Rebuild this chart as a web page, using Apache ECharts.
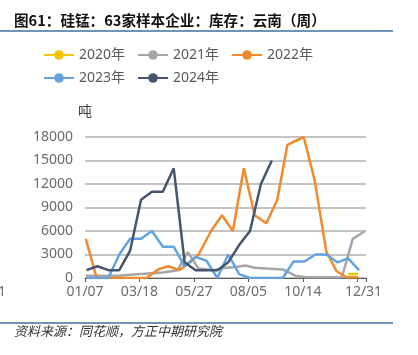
<!DOCTYPE html>
<html><head><meta charset="utf-8">
<script src="https://cdn.jsdelivr.net/npm/echarts@6/dist/echarts.min.js"></script>
<style>html,body{margin:0;padding:0;background:#fff}#c{width:418px;height:355px}</style>
</head><body><div id="c"></div>
<script>
// ---- data (x = days after 01/07) ----
const seriesNames = ['2020年', '2021年', '2022年', '2023年', '2024年'];
const tickDays = [0, 70, 140, 210, 280, 350, 361];
const tickLabels = ['01/07', '03/18', '05/27', '08/05', '10/14', '', '12/31'];
const yTicks = [0, 3000, 6000, 9000, 12000, 15000, 18000];

const days2020 = [338, 351];
const vals2020 = [500, 500];

const days2021 = [1, 15, 30, 44, 58, 72, 86, 100, 119, 132, 146, 166, 180, 194, 206, 218, 233, 254, 270, 284, 298, 312, 330, 344, 360];
const vals2021 = [300, 300, 300, 300, 400, 500, 600, 700, 1000, 3300, 1200, 1000, 1300, 1400, 1600, 1300, 1200, 1100, 300, 100, 100, 100, 100, 5000, 6000];

const days2022 = [1, 15, 28, 41, 54, 66, 79, 94, 107, 121, 135, 146, 162, 176, 190, 204, 218, 233, 247, 260, 281, 295, 310, 323, 336, 351];
const vals2022 = [5000, 0, 0, 0, 0, 0, 0, 1100, 1500, 1000, 2000, 3000, 6000, 8000, 6000, 14000, 8000, 7000, 10000, 17000, 18000, 12500, 3400, 900, 100, 100];

const days2023 = [2, 16, 30, 44, 58, 72, 86, 100, 114, 128, 142, 156, 170, 184, 198, 212, 226, 240, 254, 268, 282, 296, 310, 324, 338, 352];
const vals2023 = [0, 0, 0, 3000, 5000, 5000, 6000, 4000, 4000, 1500, 2700, 2200, 0, 3000, 500, 0, 0, 0, 0, 2100, 2100, 3000, 3000, 2000, 2500, 1000];

const days2024 = [2, 16, 30, 44, 58, 72, 86, 100, 114, 128, 142, 156, 170, 184, 198, 212, 226, 240];
const vals2024 = [1000, 1500, 1000, 1000, 3500, 10000, 11000, 11000, 14000, 2000, 1000, 1000, 1000, 2000, 4200, 6000, 12000, 15000];

const colors = ['#F5C400', '#A6A6A6', '#F08A2C', '#63A3E0', '#46556E'];

function zip(d, v) { return d.map((x, i) => [x, v[i]]); }
const allDays = [days2020, days2021, days2022, days2023, days2024];
const allVals = [vals2020, vals2021, vals2022, vals2023, vals2024];

const FONT = '"Noto Sans", "Noto Sans CJK SC", sans-serif';
const chart = echarts.init(document.getElementById('c'), null, { renderer: 'canvas' });

const legendCommon = {
  left: 38, itemWidth: 30, itemHeight: 12, itemGap: 12,
  textStyle: { fontFamily: FONT, fontSize: 14, color: '#595959' }
};

chart.setOption({
  animation: false,
  color: colors,
  grid: { left: 85, right: 52, top: 137, bottom: 77, containLabel: false },
  legend: [
    Object.assign({}, legendCommon, { top: 43, data: seriesNames.slice(0, 3) }),
    Object.assign({}, legendCommon, { top: 66, data: seriesNames.slice(3) })
  ],
  xAxis: {
    type: 'value', min: 0, max: 361, interval: 70,
    splitLine: { show: false },
    axisLine: { show: true, lineStyle: { color: '#595959', width: 1 } },
    axisTick: { show: true, length: 4, lineStyle: { color: '#595959' } },
    axisLabel: {
      margin: 7, fontFamily: FONT, fontSize: 14, color: '#6b6b6b',
      showMinLabel: true, showMaxLabel: true,
      formatter: function (v) {
        const i = tickDays.indexOf(Math.round(v));
        if (i < 0) return '';
        if (tickLabels[i] === '12/31') return '{e|12/31}';
        return tickLabels[i];
      },
      rich: { e: { fontFamily: FONT, fontSize: 14, color: '#6b6b6b', padding: [0, 5, 0, 0] } }
    }
  },
  yAxis: {
    type: 'value', min: yTicks[0], max: yTicks[yTicks.length - 1], interval: 3000,
    name: '吨', nameLocation: 'end', nameGap: 19,
    nameTextStyle: { fontFamily: '"Noto Sans CJK SC", sans-serif', fontSize: 14, color: '#404040' },
    axisLine: { show: false }, axisTick: { show: false },
    axisLabel: { margin: 12, fontFamily: FONT, fontSize: 14, color: '#6b6b6b', formatter: v => String(v) },
    splitLine: { show: true, lineStyle: { color: '#c4c4c4', width: 2 } }
  },
  series: seriesNames.map((n, i) => ({
    name: n, type: 'line', data: zip(allDays[i], allVals[i]),
    symbol: 'circle', symbolSize: 10, showSymbol: false,
    lineStyle: { width: 2.5, color: colors[i] },
    itemStyle: { color: colors[i] },
    z: 2 + i
  })),
  graphic: [
    { type: 'text', left: 14, top: 13, style: { text: '图61：硅锰：63家样本企业：库存：云南（周）', font: 'bold 14.6px "Noto Sans CJK SC", sans-serif', fill: '#111' } },
    { type: 'line', shape: { x1: 0, y1: 31, x2: 393, y2: 31 }, style: { stroke: '#41719C', lineWidth: 1.5 } },
    { type: 'line', shape: { x1: 0, y1: 323, x2: 393, y2: 323 }, style: { stroke: '#41719C', lineWidth: 1.5 } },
    { type: 'text', left: 14, top: 325, style: { text: '资料来源：同花顺，方正中期研究院', font: 'italic 13px "Noto Sans CJK SC", sans-serif', fill: '#333' } },
    { type: 'text', left: -2, top: 285, style: { text: '1', font: '14px "Noto Sans", sans-serif', fill: '#6b6b6b' } }
  ]
});
</script></body></html>
